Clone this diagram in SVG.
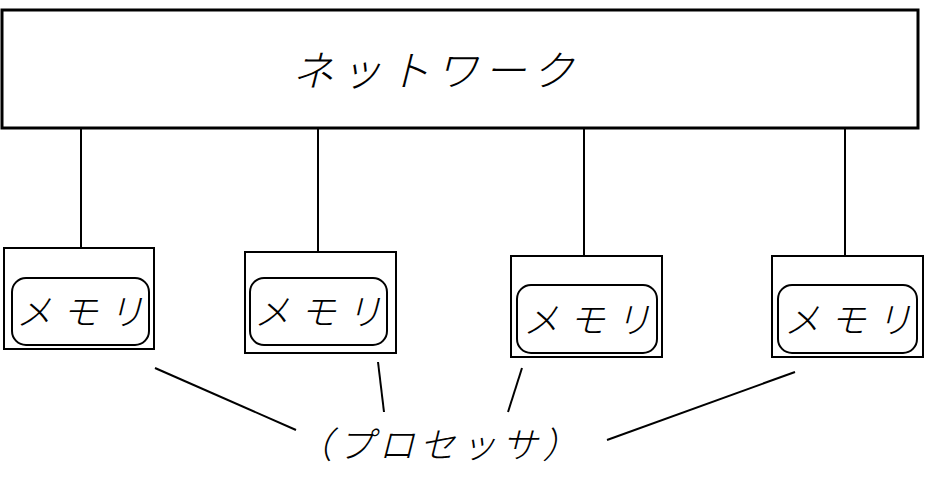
<svg xmlns="http://www.w3.org/2000/svg" width="927" height="478" viewBox="0 0 927 478">
<style>
.box{fill:#fff;stroke:#000;stroke-width:2}
.mem{fill:none;stroke:#000;stroke-width:2}
.ln{stroke:#000;stroke-width:2;fill:none}
.t{font-family:"Noto Sans CJK JP","Noto Sans",sans-serif;font-style:italic;font-weight:300;fill:#000;text-anchor:middle}
.m{font-size:36px;letter-spacing:10px}
</style>
<rect width="927" height="478" fill="#fff"/>
<g id="connectors">
<line class="ln" x1="81" y1="128" x2="81" y2="248"/>
<line class="ln" x1="318" y1="128" x2="318" y2="252"/>
<line class="ln" x1="584" y1="128" x2="584" y2="256"/>
<line class="ln" x1="845" y1="128" x2="845" y2="256"/>
<line class="ln" x1="155" y1="368" x2="296" y2="430"/>
<line class="ln" x1="378" y1="362" x2="384" y2="412"/>
<line class="ln" x1="522" y1="368" x2="508" y2="412"/>
<line class="ln" x1="795" y1="372" x2="607" y2="440"/>
</g>
<g id="network">
<rect x="2" y="10" width="916" height="118" fill="#fff" stroke="#000" stroke-width="3"/>
<text class="t" x="436" y="86" font-size="42" letter-spacing="6">ネットワーク</text>
</g>
<g id="node1">
<rect class="box" x="4" y="248" width="150" height="101"/>
<rect class="mem" x="12" y="278" width="137" height="67" rx="14"/>
<text class="t m" x="85" y="325">メモリ</text>
</g>
<g id="node2">
<rect class="box" x="245" y="252" width="151" height="101"/>
<rect class="mem" x="250" y="278" width="137" height="67" rx="14"/>
<text class="t m" x="323" y="325">メモリ</text>
</g>
<g id="node3">
<rect class="box" x="511" y="256" width="151" height="101"/>
<rect class="mem" x="517" y="285" width="140" height="68" rx="14"/>
<text class="t m" x="592" y="333">メモリ</text>
</g>
<g id="node4">
<rect class="box" x="772" y="256" width="151" height="101"/>
<rect class="mem" x="778" y="285" width="139" height="68" rx="14"/>
<text class="t m" x="853" y="333">メモリ</text>
</g>
<g id="processor-label">
<text class="t" x="440" y="458" font-size="36" letter-spacing="5">（プロセッサ）</text>
</g>
</svg>
